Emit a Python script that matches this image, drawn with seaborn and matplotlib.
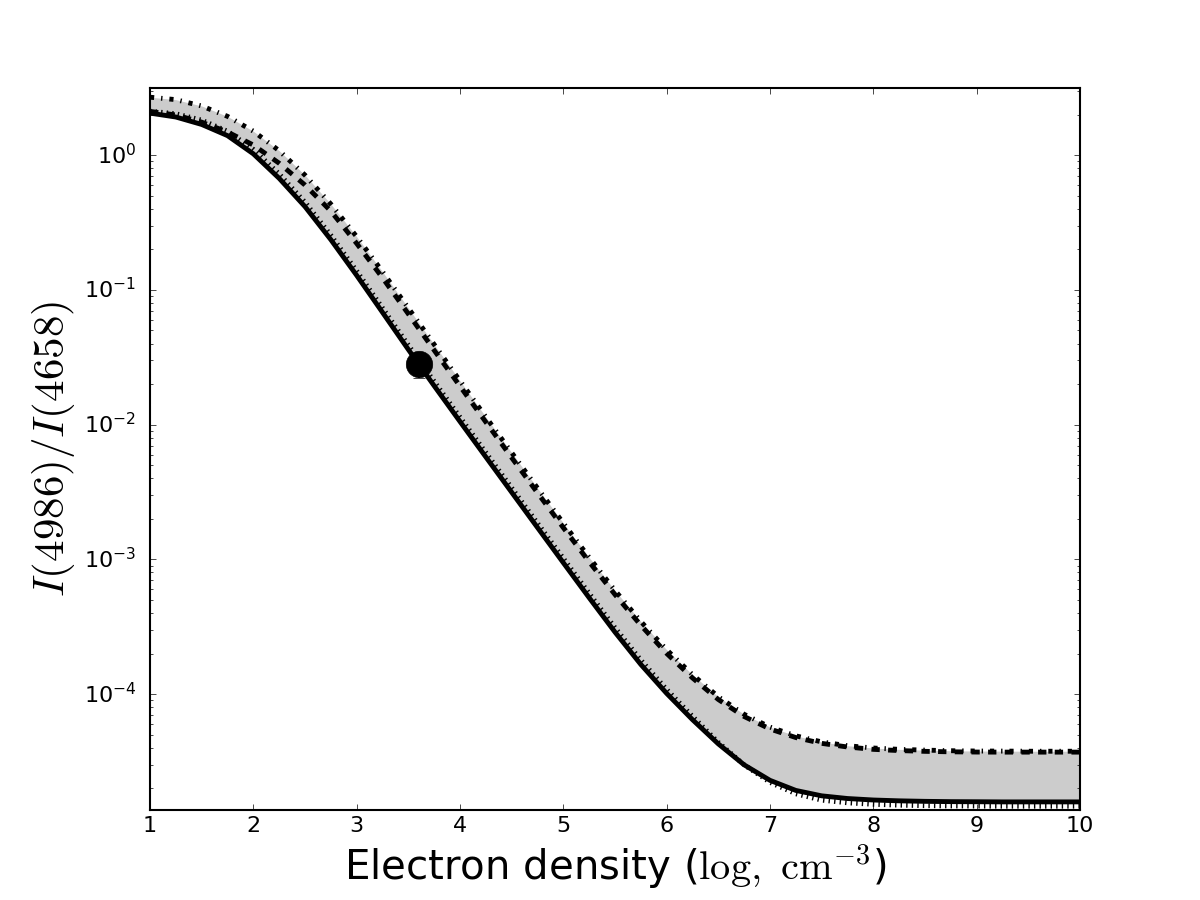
import numpy as np
import pandas as pd
import matplotlib
matplotlib.use("Agg")
import matplotlib.pyplot as plt
import seaborn as sns

# ---- data ----
log_density = [1.00, 1.25, 1.50, 1.75, 2.00, 2.25, 2.50, 2.75, 3.00, 3.25,
               3.50, 3.75, 4.00, 4.25, 4.50, 4.75, 5.00, 5.25, 5.50, 5.75,
               6.00, 6.25, 6.50, 6.75, 7.00, 7.25, 7.50, 7.75, 8.00, 8.25,
               8.50, 8.75, 9.00, 9.25, 9.50, 9.75, 10.00]

ratio_solid = [2.051, 1.919, 1.690, 1.396, 1.023, 0.673, 0.415, 0.236, 0.1282, 0.0681,
               0.0361, 0.01941, 0.01054, 0.005754, 0.003148, 0.001722, 9.44e-4, 5.19e-4, 2.884e-4, 1.660e-4,
               1.012e-4, 6.46e-5, 4.27e-5, 2.985e-5, 2.291e-5, 1.928e-5, 1.758e-5, 1.679e-5, 1.637e-5, 1.614e-5,
               1.600e-5, 1.592e-5, 1.589e-5, 1.585e-5, 1.585e-5, 1.585e-5, 1.585e-5]

ratio_dotted = [2.12, 2.03, 1.82, 1.506, 1.104, 0.726, 0.448, 0.2547, 0.1383, 0.07348,
                0.03895, 0.02094, 0.01137, 0.006209, 0.003397, 0.001858, 1.019e-3, 5.60e-4, 3.112e-4, 1.791e-4,
                1.083e-4, 6.84e-5, 4.39e-5, 2.985e-5, 2.213e-5, 1.820e-5, 1.633e-5, 1.560e-5, 1.521e-5, 1.499e-5,
                1.486e-5, 1.479e-5, 1.476e-5, 1.472e-5, 1.472e-5, 1.472e-5, 1.472e-5]

ratio_dashed = [2.113, 1.986, 1.758, 1.486, 1.189, 0.871, 0.600, 0.3846, 0.2213, 0.1230,
                0.06637, 0.03565, 0.01928, 0.01045, 0.005689, 0.003119, 0.001718, 9.59e-4, 5.48e-4, 3.243e-4,
                2.004e-4, 1.318e-4, 9.12e-5, 6.82e-5, 5.51e-5, 4.76e-5, 4.31e-5, 4.05e-5, 3.89e-5, 3.81e-5,
                3.76e-5, 3.73e-5, 3.715e-5, 3.71e-5, 3.71e-5, 3.71e-5, 3.71e-5]

ratio_dashdot = [2.692, 2.582, 2.317, 1.941, 1.507, 1.079, 0.711, 0.4335, 0.2483, 0.1365,
                 0.0733, 0.03936, 0.02113, 0.01140, 0.006194, 0.003381, 0.001858, 0.001033, 5.875e-4, 3.459e-4,
                 2.133e-4, 1.393e-4, 9.55e-5, 7.08e-5, 5.69e-5, 4.90e-5, 4.42e-5, 4.14e-5, 3.98e-5, 3.89e-5,
                 3.84e-5, 3.80e-5, 3.78e-5, 3.776e-5, 3.767e-5, 3.767e-5, 3.767e-5]

obs_x = [3.6]
obs_y = [0.0283]
obs_err = [0.006]

x_ticks = [1, 2, 3, 4, 5, 6, 7, 8, 9, 10]

# ---- style ----
plt.style.use("classic")
plt.rcParams["mathtext.fontset"] = "cm"
plt.rcParams["font.family"] = ["DejaVu Sans"]

fig, ax = plt.subplots(figsize=(12, 9), dpi=100)
fig.subplots_adjust(left=0.125, right=0.9, bottom=0.1, top=0.902)

ax.fill_between(log_density, ratio_solid, ratio_dashdot, color="0.8", linewidth=0, zorder=1)

lw = 3.5
sns.lineplot(x=log_density, y=ratio_solid, ax=ax, color="k", linewidth=lw, linestyle="-", zorder=3)
sns.lineplot(x=log_density, y=ratio_dotted, ax=ax, color="k", linewidth=lw, linestyle=":", zorder=3)
sns.lineplot(x=log_density, y=ratio_dashed, ax=ax, color="k", linewidth=lw, linestyle="--", zorder=3)
sns.lineplot(x=log_density, y=ratio_dashdot, ax=ax, color="k", linewidth=lw, linestyle="-.", zorder=3)

ax.errorbar(obs_x, obs_y, yerr=obs_err, fmt="o", color="k", mec="k", ms=19,
            capsize=4, elinewidth=1.5, zorder=5)

ax.set_yscale("log")
ax.set_xlim(1, 10)
ax.set_ylim(1.38e-5, 3.14)
ax.set_xticks(x_ticks)
ax.set_xticklabels([str(t) for t in x_ticks])
ax.tick_params(axis="both", which="major", labelsize=16)
ax.tick_params(axis="y", which="major", pad=10)

ax.set_xlabel(r"Electron density ($\mathrm{log,\ cm^{-3}}$)", fontsize=29)
ax.set_ylabel(r"$I(4986)/I(4658)$", fontsize=31)

for sp in ax.spines.values():
    sp.set_linewidth(1.5)

fig.savefig("out.png", dpi=100, facecolor="white")
